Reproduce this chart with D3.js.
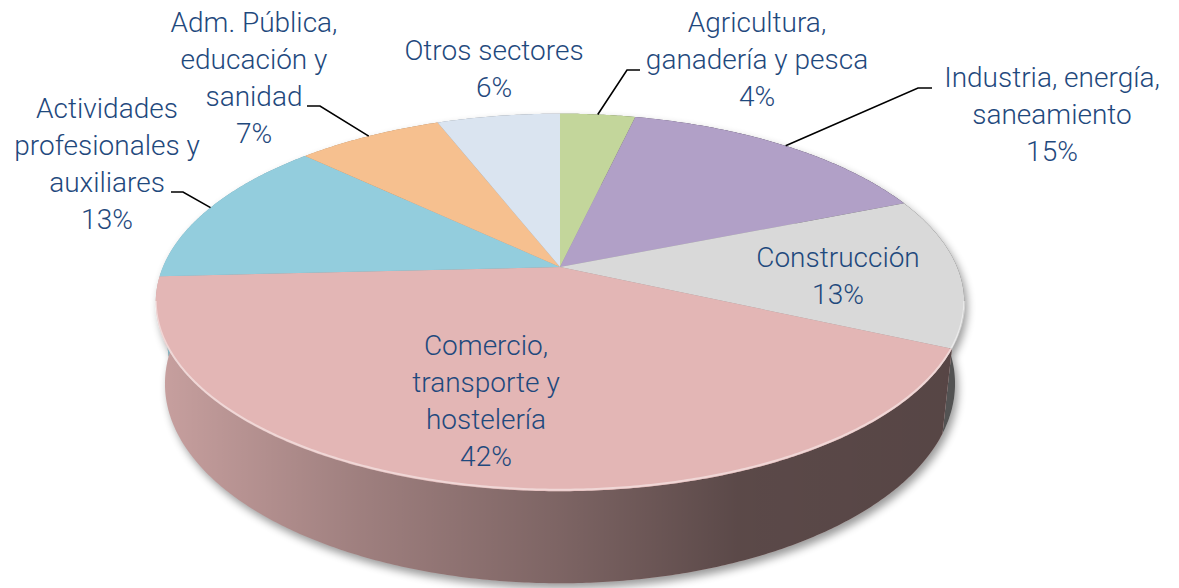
<!DOCTYPE html>
<html>
<head>
<meta charset="utf-8">
<script src="https://cdn.jsdelivr.net/npm/d3@7"></script>
<style>
  html, body { margin: 0; padding: 0; background: #fff; }
  svg { display: block; }
  text { font-family: Roboto, "Open Sans", sans-serif; font-weight: 300; font-size: 28px; fill: #1f497d; }
</style>
</head>
<body>
<svg id="chart" width="1179" height="588"></svg>
<script>
"use strict"

const categories = [
  ["Agricultura,", "ganadería y pesca"],
  ["Industria, energía,", "saneamiento"],
  ["Construcción"],
  ["Comercio,", "transporte y", "hostelería"],
  ["Actividades", "profesionales y", "auxiliares"],
  ["Adm. Pública,", "educación y", "sanidad"],
  ["Otros sectores"]
]
const values = [3.6, 15.3, 12.9, 42.4, 12.9, 7.0, 5.9]
const colors = ["#c3d69b", "#b1a0c7", "#d9d9d9", "#e3b6b5", "#93cddd", "#f6c08f", "#dae4f0"]

// where each label block sits: centre x, first baseline, leader elbow + end
const labelLayout = [
  {x: 757, y: 32, elbow: [627, 70], end: [640, 70]},
  {x: 1052, y: 87, elbow: [918, 88], end: [932, 88]},
  {x: 838, y: 267},
  {x: 486, y: 355},
  {x: 107, y: 118, elbow: [183, 192], end: [171, 192]},
  {x: 254, y: 32, elbow: [320, 106], end: [307, 106]},
  {x: 494, y: 60}
]
const lineGap = 37

// 3d projection of the disc (radius 1, top at z=0)
const cx = 560, cy = 267, K = 1878, D = 4.73
const tilt = 27.3 * Math.PI / 180
const sn = Math.sin(tilt), cs = Math.cos(tilt)
const thick = 0.232

function project(a, r, z) {
  const X = r * Math.sin(a), Y = r * Math.cos(a)
  const depth = D + Y * cs - z * sn
  const v = Y * sn + z * cs
  return [cx + K * X / depth, cy - K * v / depth]
}

function arcPts(a0, a1, z) {
  const n = Math.max(2, Math.ceil((a1 - a0) / (Math.PI / 360)))
  return d3.range(n + 1).map(i => project(a0 + (a1 - a0) * i / n, 1, z))
}

const svg = d3.select("#chart")
const defs = svg.append("defs")

const blur = defs.append("filter").attr("id", "shadow")
  .attr("x", "-10%").attr("y", "-10%").attr("width", "120%").attr("height", "130%")
blur.append("feGaussianBlur").attr("stdDeviation", 4)

// darkening across the side wall, light on the left, dark on the right
const grad = defs.append("linearGradient").attr("id", "sideShade")
  .attr("gradientUnits", "userSpaceOnUse")
  .attr("x1", 156).attr("x2", 964).attr("y1", 0).attr("y2", 0)
grad.selectAll("stop")
  .data([[0, 0.12], [0.25, 0.3], [0.5, 0.45], [0.72, 0.6], [1, 0.62]])
  .join("stop")
  .attr("offset", d => d[0])
  .attr("stop-color", "#000")
  .attr("stop-opacity", d => d[1])

const line = d3.line()
const pie = d3.pie().sort(null).value(d => d)
const arcs = pie(values)
const total = d3.sum(values)
const pct = d => Math.round(d / total * 100) + "%"

// soft shadow under the pie
const shadow = svg.append("g")
  .attr("filter", "url(#shadow)")
  .attr("transform", "translate(3,5)")
  .attr("opacity", 0.4)
shadow.append("path").attr("d", line(arcPts(0, 2 * Math.PI, 0)) + "Z").attr("fill", "#000")
shadow.append("path").attr("d", line(arcPts(0, 2 * Math.PI, -thick)) + "Z").attr("fill", "#000")

// outer walls
const walls = svg.append("g")
arcs.forEach((d, i) => {
  const pts = arcPts(d.startAngle, d.endAngle, 0)
    .concat(arcPts(d.startAngle, d.endAngle, -thick).reverse())
  walls.append("path").attr("d", line(pts) + "Z").attr("fill", colors[i])
  walls.append("path").attr("d", line(pts) + "Z").attr("fill", "url(#sideShade)")
})

// top faces
svg.append("g").selectAll("path")
  .data(arcs)
  .join("path")
  .attr("d", d => line([project(0, 0, 0)].concat(arcPts(d.startAngle, d.endAngle, 0))) + "Z")
  .attr("fill", (d, i) => colors[i])

// bevel highlight along the front rim
const rimA0 = Math.atan2(0.982, -0.188), rimA1 = 2 * Math.PI - rimA0
svg.append("path")
  .attr("d", line(arcPts(rimA0, rimA1, 0).map(p => [p[0], p[1] - 1.5])))
  .attr("fill", "none")
  .attr("stroke", "#fff")
  .attr("stroke-opacity", 0.45)
  .attr("stroke-width", 2)

// leader lines
svg.append("g").selectAll("path")
  .data(arcs.filter((d, i) => labelLayout[i].elbow))
  .join("path")
  .attr("d", d => {
    const L = labelLayout[d.index]
    return line([project((d.startAngle + d.endAngle) / 2, 1, 0), L.elbow, L.end])
  })
  .attr("fill", "none")
  .attr("stroke", "#000")
  .attr("stroke-width", 1.6)

// labels
const labels = svg.append("g")
arcs.forEach((d, i) => {
  const L = labelLayout[i]
  const lines = categories[i].concat([pct(values[i])])
  lines.forEach((s, k) => {
    labels.append("text")
      .attr("x", L.x)
      .attr("y", L.y + k * lineGap)
      .attr("text-anchor", "middle")
      .text(s)
  })
})
</script>
</body>
</html>
